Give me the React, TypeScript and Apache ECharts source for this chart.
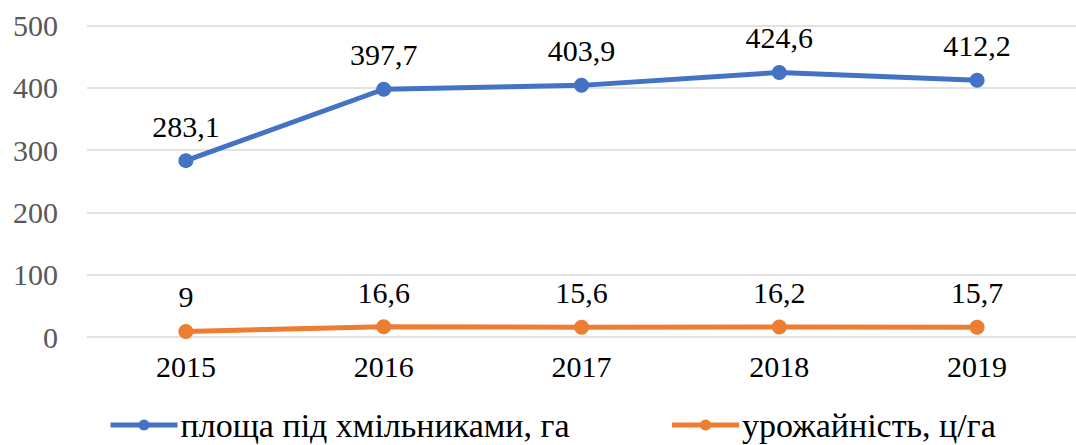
import React, { useEffect, useRef } from "react";
import * as echarts from "echarts";

const years = ["2015", "2016", "2017", "2018", "2019"];
const areaValues = [283.1, 397.7, 403.9, 424.6, 412.2];
const yieldValues = [9, 16.6, 15.6, 16.2, 15.7];
const seriesNames = ["площа під хмільниками, га", "урожайність, ц/га"];

const fmt = (v: number) => String(v).replace(".", ",");
const FONT = "Liberation Serif";

export default function App() {
  const ref = useRef<HTMLDivElement>(null);
  useEffect(() => {
    if (!ref.current) return;
    const chart = echarts.init(ref.current, undefined, { renderer: "svg" });
    const mkSeries = (name: string, data: number[], color: string) => ({
      name,
      type: "line",
      data,
      symbol: "circle",
      symbolSize: 15,
      lineStyle: { color, width: 5 },
      itemStyle: { color },
      label: {
        show: true,
        position: "top",
        distance: 12,
        color: "#000",
        fontFamily: FONT,
        fontSize: 30,
        formatter: (p: any) => fmt(p.value),
      },
    });
    chart.setOption({
      animation: false,
      backgroundColor: "#fff",
      textStyle: { fontFamily: FONT },
      grid: { left: 87, right: -12, top: 25.5, bottom: 445 - 337 },
      xAxis: {
        type: "category",
        data: years,
        boundaryGap: true,
        axisLine: { show: false },
        axisTick: { show: false },
        axisLabel: { color: "#000", fontFamily: FONT, fontSize: 30, margin: 14 },
      },
      yAxis: {
        type: "value",
        min: 0,
        max: 500,
        interval: 100,
        axisLine: { show: false },
        axisTick: { show: false },
        axisLabel: { color: "#595959", fontFamily: FONT, fontSize: 30, margin: 29 },
        splitLine: { lineStyle: { color: "#d9d9d9", width: 1.5 } },
      },
      legend: {
        left: 103,
        top: 403,
        itemWidth: 67,
        itemHeight: 14,
        itemGap: 100,
        lineStyle: { width: 5 },
        textStyle: { color: "#000", fontFamily: FONT, fontSize: 34, padding: [0, 0, 0, -2] },
        data: seriesNames,
      },
      series: [
        mkSeries(seriesNames[0], areaValues, "#4472C4"),
        mkSeries(seriesNames[1], yieldValues, "#ED7D31"),
      ],
    });
    return () => chart.dispose();
  }, []);
  return (
    <div
      ref={ref}
      style={{ position: "fixed", left: 0, top: 0, width: 1076, height: 445, overflow: "hidden" }}
    />
  );
}
